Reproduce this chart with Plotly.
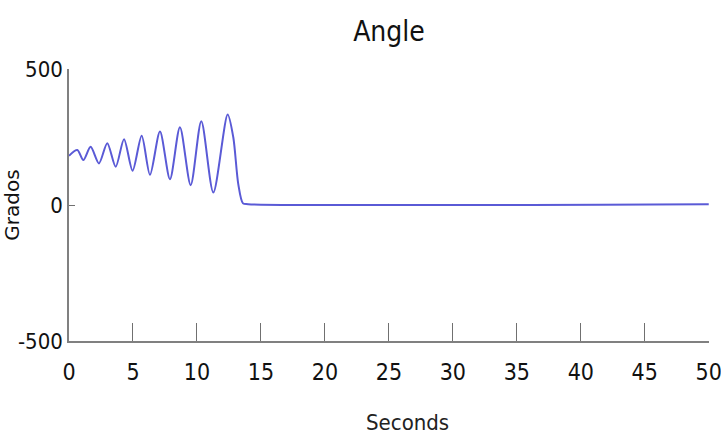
import plotly.graph_objects as go

# Pendulum angle over time (degrees)
time_s = [0, 0.65, 1.12, 1.69, 2.34, 2.99, 3.65, 4.30, 4.97, 5.68, 6.33, 7.11,
          7.89, 8.67, 9.51, 10.34, 11.28, 12.4, 12.84, 13.23, 13.6, 14.0, 50]
angle_deg = [181, 202, 165, 214, 153, 227, 141, 242, 126, 255, 111, 270,
             95, 286, 73, 308, 46, 333, 249, 77, 6, 3, 3]

x_ticks = [0, 5, 10, 15, 20, 25, 30, 35, 40, 45, 50]
y_ticks = [-500, 0, 500]
y_tick_text = ["-500", "0", "500"]

cond = "DejaVu Sans Condensed, Liberation Sans Narrow, Liberation Sans, sans-serif"

fig = go.Figure(
    go.Scatter(
        x=time_s,
        y=angle_deg,
        mode="lines",
        line=dict(color="#5a5ad6", width=2, shape="spline", smoothing=0.8),
        showlegend=False,
    )
)

fig.update_layout(
    width=721,
    height=445,
    margin=dict(l=69, r=12, t=69, b=104),
    paper_bgcolor="white",
    plot_bgcolor="white",
    title=dict(
        text="Angle",
        x=(69 + 709) / 2 / 721,
        xanchor="center",
        y=1 - 31 / 445,
        yanchor="middle",
        font=dict(family=cond, size=28, color="#111111"),
    ),
    # x-axis caption, sitting slightly right of the axis centre
    annotations=[
        dict(
            text="Seconds",
            xref="paper", yref="paper",
            x=(407 - 69) / 640, y=-(422 - 341) / 272,
            xanchor="center", yanchor="middle",
            showarrow=False,
            font=dict(family=cond, size=22, color="#222222"),
        )
    ],
)

fig.update_xaxes(
    range=[0, 50.02],
    tickvals=x_ticks,
    ticks="inside",
    ticklen=18,
    tickwidth=1.2,
    tickcolor="#707070",
    showline=True,
    linecolor="#808080",
    linewidth=1.5,
    showgrid=False,
    zeroline=False,
    automargin=False,
    ticklabeloverflow="allow",
    ticklabelstandoff=10,
    tickfont=dict(family=cond, size=23, color="#111111"),
)

fig.update_yaxes(
    range=[-500, 500],
    tickvals=y_ticks,
    ticktext=y_tick_text,
    ticks="inside",
    ticklen=6,
    tickwidth=1.2,
    tickcolor="#707070",
    showline=True,
    linecolor="#808080",
    linewidth=1.5,
    showgrid=False,
    zeroline=False,
    automargin=False,
    tickfont=dict(family=cond, size=22, color="#111111"),
    title=dict(text="Grados", font=dict(family="DejaVu Sans, sans-serif", size=20, color="#111111"), standoff=4),
)

fig.write_html("out.html")
